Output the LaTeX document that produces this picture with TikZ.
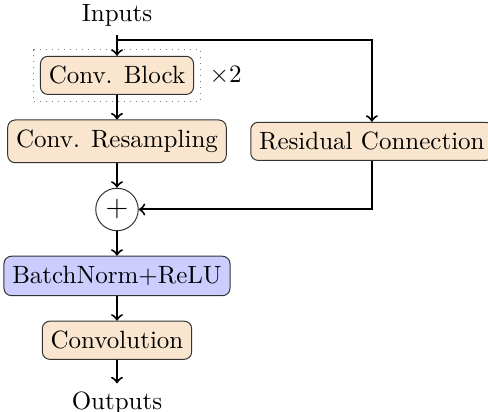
\documentclass[tikz,border=0pt]{standalone}
\usepackage{xcolor}
\definecolor{cbeige}{RGB}{250,229,206}
\definecolor{cblue}{RGB}{204,204,255}
\usepackage{tikz}
\usetikzlibrary{positioning, fit}
\tikzset{
node distance=9.8pt,
Block/.style={
	draw=black!80,
	rounded corners=3pt,
	inner ysep=4pt,
	fill=cbeige
},
NormBlock/.style={
	Block,
	fill=cblue
},
SumNode/.style={
	draw=black!80, circle,
	inner sep=0pt, minimum size=17pt
},
Edge/.style={
	draw=black, thick, ->
},
Group/.style={
	draw=black!50, dotted,
	inner sep=2.5pt
}
}

\begin{document}
\begin{tikzpicture}
	\useasboundingbox (-46.8pt,6pt) rectangle (148.4pt,-158.8pt);
	\node (in) at (0,0) {Inputs};
	\coordinate[below=2pt of in] (split);

	\node[Block, below=8.4pt of in] (block) {Conv. Block};
	\node[Group, fit=(block), label=right:{$\times 2$}] (group) {};
	\node[Block, below=of block] (resamp) {Conv. Resampling};
	\node[Block, right=9.4pt of resamp] (res) {Residual Connection};

	\node[SumNode, below=of resamp] (add) {\large$+$};
	\node[NormBlock, below=of add] (bn) {BatchNorm+ReLU};
	\node[Block, below=of bn] (conv) {Convolution};
	\node[below=9.4pt of conv] (out) {Outputs};

	\draw[Edge] (in) -- (block);
	\draw[Edge] (block) -- (resamp);
	\draw[Edge] (resamp) -- (add);
	\draw[Edge] (add) -- (bn);
	\draw[Edge] (bn) -- (conv);
	\draw[Edge] (conv) -- (out);
	\draw[Edge] (split) -| (res);
	\draw[Edge] (res) |- (add);
\end{tikzpicture}
\end{document}
